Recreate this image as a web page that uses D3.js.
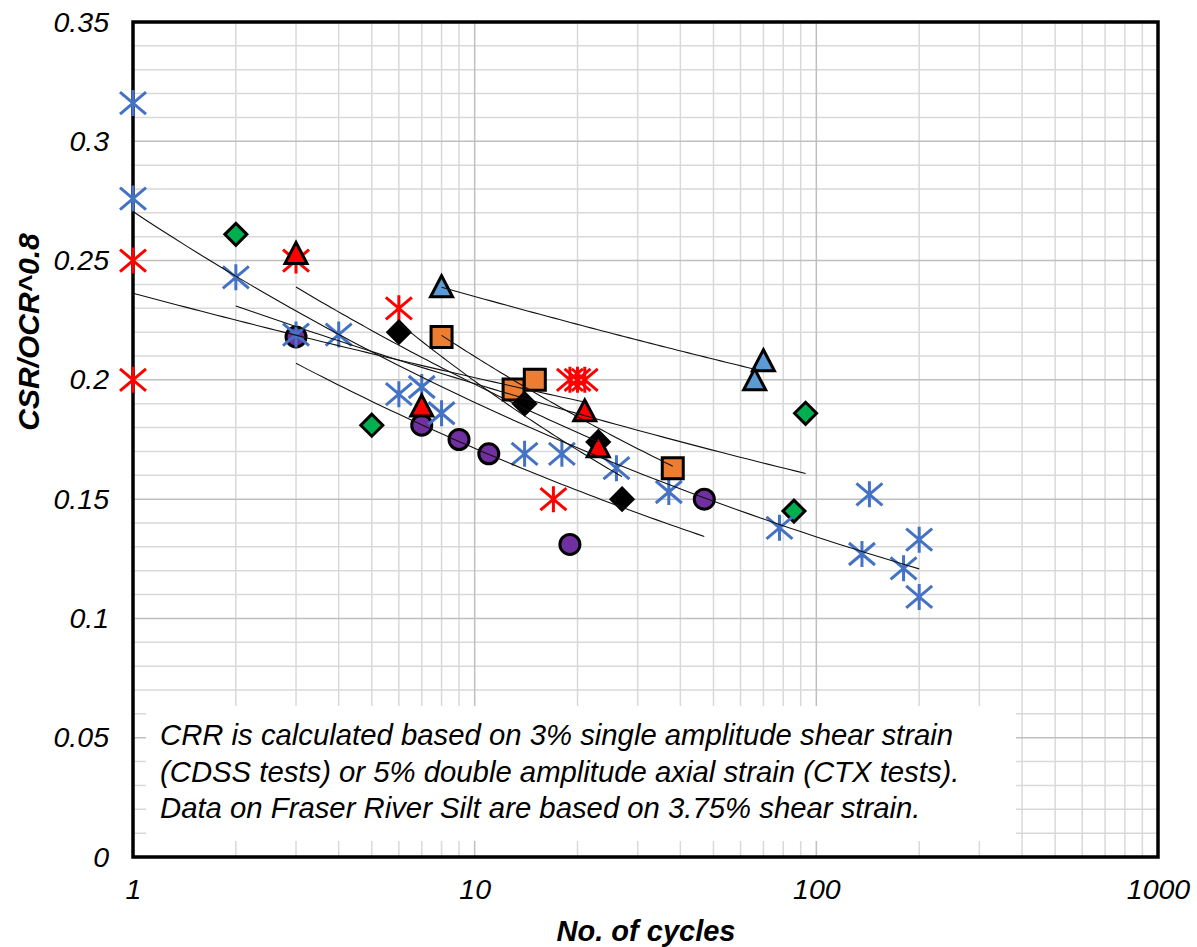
<!DOCTYPE html>
<html>
<head>
<meta charset="utf-8">
<script src="https://cdn.jsdelivr.net/npm/d3@7"></script>
<style>
  body { margin: 0; background: #fff; }
  svg { display: block; }
  text { font-family: "Liberation Sans", Arial, sans-serif; }
</style>
</head>
<body>
<svg id="chart" width="1197" height="947"></svg>
<script>
// ---- axis ticks ----
const xTicks = [1, 10, 100, 1000];
const xTickLabels = ["1", "10", "100", "1000"];
const yTicks = [0, 0.05, 0.1, 0.15, 0.2, 0.25, 0.3, 0.35];
const yTickLabels = ["0", "0.05", "0.1", "0.15", "0.2", "0.25", "0.3", "0.35"];

// ---- data: number of cycles vs CSR/OCR^0.8 ----
const blueStarX = [1, 1, 2, 3, 4, 6, 7, 8, 14, 18, 26, 37, 78, 143, 136, 180, 200, 200];
const blueStarY = [0.316, 0.276, 0.243, 0.219, 0.219, 0.194, 0.197, 0.186, 0.169, 0.169, 0.163, 0.153, 0.138, 0.152, 0.127, 0.121, 0.133, 0.109];

const redStarX = [1, 1, 3, 6, 19, 20, 21, 17];
const redStarY = [0.25, 0.2, 0.25, 0.23, 0.2, 0.2, 0.2, 0.15];

const greenDiamondX = [2, 5, 93, 86];
const greenDiamondY = [0.261, 0.181, 0.186, 0.145];

const blackDiamondX = [6, 14, 23, 27];
const blackDiamondY = [0.22, 0.19, 0.174, 0.15];

const redTriangleX = [3, 7, 21, 23];
const redTriangleY = [0.253, 0.189, 0.187, 0.172];

const blueTriangleX = [8, 70, 66];
const blueTriangleY = [0.239, 0.208, 0.2];

const orangeSquareX = [8, 13, 15, 38];
const orangeSquareY = [0.218, 0.196, 0.200, 0.163];

const purpleCircleX = [3, 7, 9, 11, 19, 47];
const purpleCircleY = [0.218, 0.181, 0.175, 0.169, 0.131, 0.150];

const noteLines = [
  "CRR is calculated based on 3% single amplitude shear strain",
  "(CDSS tests) or 5% double amplitude axial strain (CTX tests).",
  "Data on Fraser River Silt are based on 3.75% shear strain."
];

// drawing order (later series sit on top)
const series = [
  { xs: redStarX,      ys: redStarY,      shape: "star",     color: "#FF0000" },
  { xs: purpleCircleX, ys: purpleCircleY, shape: "circle",   color: "#7030A0" },
  { xs: greenDiamondX, ys: greenDiamondY, shape: "diamond",  color: "#00B050" },
  { xs: blueStarX,     ys: blueStarY,     shape: "star",     color: "#4472C4" },
  { xs: orangeSquareX, ys: orangeSquareY, shape: "square",   color: "#ED7D31" },
  { xs: blackDiamondX, ys: blackDiamondY, shape: "diamond",  color: "#000000" },
  { xs: redTriangleX,  ys: redTriangleY,  shape: "triangle", color: "#FF0000" },
  { xs: blueTriangleX, ys: blueTriangleY, shape: "triangle", color: "#5B9BD5" }
];

// ---- layout ----
const plot = { left: 133, right: 1158, top: 22, bottom: 857 };

const svg = d3.select("#chart");
const x = d3.scaleLog().domain([1, 1000]).range([plot.left, plot.right]);
const y = d3.scaleLinear().domain([0, 0.35]).range([plot.bottom, plot.top]);

// ---- gridlines ----
const minorX = [];
[1, 10, 100].forEach(d => { for (let k = 2; k <= 9; k++) minorX.push(d * k); });
const minorY = d3.range(1, 35).map(i => i / 100).filter(v => Math.round(v * 100) % 5 !== 0);

const grid = svg.append("g");
grid.selectAll(".mx").data(minorX).join("line")
  .attr("x1", d => x(d)).attr("x2", d => x(d))
  .attr("y1", plot.top).attr("y2", plot.bottom)
  .attr("stroke", "#d9d9d9").attr("stroke-width", 1.5);
grid.selectAll(".my").data(minorY).join("line")
  .attr("x1", plot.left).attr("x2", plot.right)
  .attr("y1", d => y(d)).attr("y2", d => y(d))
  .attr("stroke", "#d9d9d9").attr("stroke-width", 1.5);
grid.selectAll(".Mx").data(xTicks).join("line")
  .attr("x1", d => x(d)).attr("x2", d => x(d))
  .attr("y1", plot.top).attr("y2", plot.bottom)
  .attr("stroke", "#bfbfbf").attr("stroke-width", 1.5);
grid.selectAll(".My").data(yTicks).join("line")
  .attr("x1", plot.left).attr("x2", plot.right)
  .attr("y1", d => y(d)).attr("y2", d => y(d))
  .attr("stroke", "#bfbfbf").attr("stroke-width", 1.5);

// ---- note box (covers the grid) ----
const note = svg.append("g");
note.append("rect")
  .attr("x", 146).attr("y", 706).attr("width", 870).attr("height", 135)
  .attr("fill", "#fff");
note.selectAll("text").data(noteLines).join("text")
  .attr("x", 160).attr("y", (d, i) => 745 + i * 36.5)
  .attr("font-size", 29.3).attr("font-style", "italic").attr("fill", "#000")
  .text(d => d);

// ---- axes ----
const yAxis = d3.axisLeft(y).tickValues(yTicks)
  .tickFormat((d, i) => yTickLabels[i]).tickSize(0).tickPadding(24);
const gy = svg.append("g").attr("transform", `translate(${plot.left},0)`).call(yAxis);
gy.select(".domain").remove();
gy.selectAll("text").attr("font-size", 28.5).attr("font-style", "italic")
  .attr("fill", "#000").attr("font-family", "'Liberation Sans', Arial, sans-serif");

const xAxis = d3.axisBottom(x).tickValues(xTicks)
  .tickFormat((d, i) => xTickLabels[i]).tickSize(0).tickPadding(22);
const gx = svg.append("g").attr("transform", `translate(0,${plot.bottom})`).call(xAxis);
gx.select(".domain").remove();
gx.selectAll("text").attr("font-size", 28.5).attr("font-style", "italic")
  .attr("fill", "#000").attr("font-family", "'Liberation Sans', Arial, sans-serif");

// plot frame
svg.append("rect")
  .attr("x", plot.left).attr("y", plot.top)
  .attr("width", plot.right - plot.left).attr("height", plot.bottom - plot.top)
  .attr("fill", "none").attr("stroke", "#000").attr("stroke-width", 3.5);

// axis titles
svg.append("text")
  .attr("x", 646).attr("y", 941).attr("text-anchor", "middle")
  .attr("font-size", 29).attr("font-weight", "bold").attr("font-style", "italic")
  .text("No. of cycles");
svg.append("text")
  .attr("transform", "translate(39,332) rotate(-90)").attr("text-anchor", "middle")
  .attr("font-size", 30).attr("font-weight", "bold").attr("font-style", "italic")
  .text("CSR/OCR^0.8");

// ---- markers ----
function markerPath(shape) {
  switch (shape) {
    case "star":     return "M-13,-11L13,11M-13,11L13,-11M0,-13L0,13";
    case "diamond":  return "M0,-11L11,0L0,11L-11,0Z";
    case "triangle": return "M0,-11L11,10L-11,10Z";
    case "square":   return "M-10.5,-10.5H10.5V10.5H-10.5Z";
    case "circle":   return "M10,0A10,10 0 1,1 -10,0A10,10 0 1,1 10,0Z";
  }
}

const marks = svg.append("g");
series.forEach(s => {
  const pts = s.xs.map((v, i) => [v, s.ys[i]]);
  const g = marks.append("g");
  g.selectAll("path").data(pts).join("path")
    .attr("transform", d => `translate(${x(d[0])},${y(d[1])})`)
    .attr("d", markerPath(s.shape))
    .attr("fill", s.shape === "star" ? "none" : s.color)
    .attr("stroke", s.shape === "star" ? s.color : "#000")
    .attr("stroke-width", 3)
    .attr("stroke-linejoin", "miter");
});

// ---- power-law trendlines y = a·x^b, fitted per series ----
function powerFit(xs, ys) {
  const lx = xs.map(Math.log), ly = ys.map(Math.log);
  const mx = d3.mean(lx), my = d3.mean(ly);
  let sxy = 0, sxx = 0;
  lx.forEach((v, i) => { sxy += (v - mx) * (ly[i] - my); sxx += (v - mx) * (v - mx); });
  const b = sxy / sxx;
  const a = Math.exp(my - b * mx);
  return { a, b };
}

const trend = svg.append("g");
const line = d3.line().x(d => x(d[0])).y(d => y(d[1]));
series.forEach(s => {
  const { a, b } = powerFit(s.xs, s.ys);
  const lo = Math.log(d3.min(s.xs)), hi = Math.log(d3.max(s.xs));
  const pts = d3.range(0, 61).map(i => {
    const xv = Math.exp(lo + (hi - lo) * i / 60);
    return [xv, a * Math.pow(xv, b)];
  });
  trend.append("path").datum(pts).attr("d", line)
    .attr("fill", "none").attr("stroke", "#111").attr("stroke-width", 1.1);
});
</script>
</body>
</html>
